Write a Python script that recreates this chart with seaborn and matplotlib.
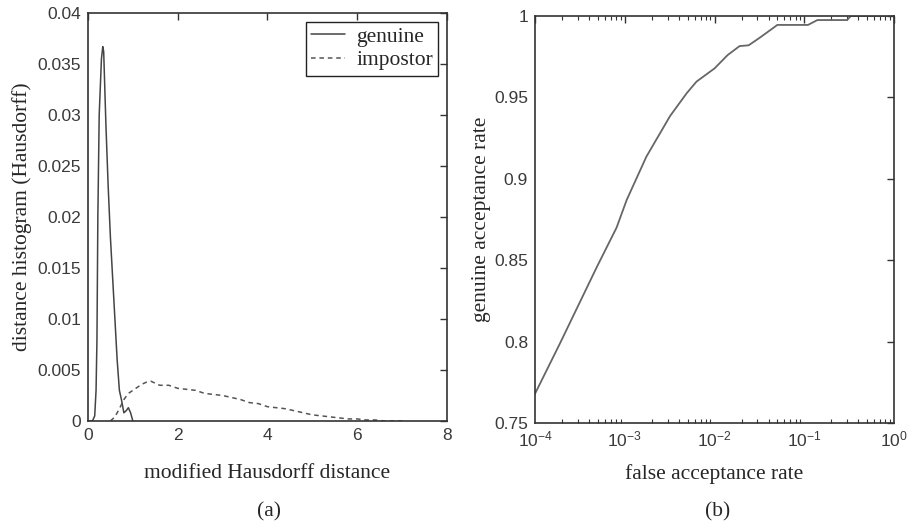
import numpy as np
import pandas as pd
import matplotlib
matplotlib.use('Agg')
import matplotlib.pyplot as plt
import seaborn as sns
from matplotlib.ticker import LogLocator, NullFormatter

# (a) distance histogram values
genuine_x = [0.0, 0.10, 0.15, 0.18, 0.20, 0.22, 0.25, 0.30, 0.33, 0.35, 0.40, 0.45,
             0.50, 0.55, 0.60, 0.65, 0.70, 0.75, 0.80, 0.85, 0.90, 0.95, 1.00]
genuine_y = [0.0, 0.0, 0.0005, 0.003, 0.008, 0.020, 0.030, 0.0355, 0.0367, 0.0362,
             0.029, 0.023, 0.018, 0.014, 0.0100, 0.006, 0.003, 0.002, 0.0008,
             0.0010, 0.0013, 0.0008, 0.0]

impostor_x = [0.5, 0.6, 0.7, 0.8, 0.9, 1.0, 1.1, 1.2, 1.3, 1.4, 1.5, 1.6, 1.8, 2.0,
              2.2, 2.4, 2.6, 2.8, 3.0, 3.2, 3.4, 3.6, 3.8, 4.0, 4.2, 4.4, 4.6, 4.8,
              5.0, 5.2, 5.4, 5.6, 5.8, 6.0, 6.2, 6.4, 6.6, 7.0]
impostor_y = [0.0, 0.0004, 0.0012, 0.0021, 0.0027, 0.0030, 0.0033, 0.0036, 0.0038,
              0.0039, 0.0037, 0.0035, 0.0035, 0.0032, 0.0031, 0.0030, 0.0027, 0.0026,
              0.0025, 0.0023, 0.0021, 0.0018, 0.0017, 0.0014, 0.0013, 0.0012, 0.0010,
              0.0008, 0.0006, 0.0005, 0.0004, 0.0003, 0.0002, 0.0002, 0.0001, 0.0001,
              0.0, 0.0]

# (b) ROC curve
far = [1e-4, 1.9e-4, 4.9e-4, 8.1e-4, 1.05e-3, 1.74e-3, 3.2e-3, 4.9e-3, 6.3e-3,
       1.0e-2, 1.4e-2, 1.9e-2, 2.4e-2, 3.2e-2, 4.6e-2, 5.0e-2, 0.11, 0.14, 0.30,
       0.33, 1.0]
gar = [0.768, 0.799, 0.846, 0.870, 0.887, 0.9136, 0.9386, 0.9526, 0.9597, 0.9678,
       0.976, 0.9815, 0.982, 0.9867, 0.993, 0.9945, 0.9945, 0.9975, 0.9975, 1.0, 1.0]

sns.set_style('white')
plt.rcParams['font.family'] = ['Liberation Serif', 'DejaVu Serif']
plt.rcParams['mathtext.fontset'] = 'custom'
plt.rcParams['mathtext.rm'] = 'Liberation Sans'

tick_font = {'family': 'Liberation Sans', 'size': 12.5}
label_size = 15.5
spine_col = '#333333'

fig = plt.figure(figsize=(9.07, 5.31), dpi=100)
ax1 = fig.add_axes([0.0970, 0.2072, 0.3958, 0.7684])
ax2 = fig.add_axes([0.5899, 0.2034, 0.3958, 0.7665])

df_gen = pd.DataFrame({'x': genuine_x, 'y': genuine_y})
df_imp = pd.DataFrame({'x': impostor_x, 'y': impostor_y})
sns.lineplot(data=df_gen, x='x', y='y', ax=ax1, color='#444444', lw=1.1,
             label='genuine', estimator=None, sort=False)
sns.lineplot(data=df_imp, x='x', y='y', ax=ax1, color='#555555', lw=1.1,
             label='impostor', estimator=None, sort=False, dashes=False)
ax1.lines[1].set_dashes([3, 2.5])

ax1.set_xlim(0, 8)
ax1.set_ylim(0, 0.04)
ax1.set_xticks([0, 2, 4, 6, 8])
ax1.set_yticks([0, 0.005, 0.01, 0.015, 0.02, 0.025, 0.03, 0.035, 0.04])
ax1.set_yticklabels(['0', '0.005', '0.01', '0.015', '0.02', '0.025', '0.03', '0.035', '0.04'])
ax1.set_xlabel('modified Hausdorff distance', fontsize=label_size, labelpad=15)
ax1.set_ylabel('distance histogram (Hausdorff)', fontsize=label_size, labelpad=4)

leg = ax1.legend(loc='upper right', fontsize=label_size, fancybox=False,
                 edgecolor='#222222', framealpha=1, handlelength=1.6,
                 handletextpad=0.5, borderpad=0.25, labelspacing=0.15,
                 borderaxespad=0.4)
leg.get_frame().set_linewidth(1.0)
for h in leg.get_lines():
    h.set_linewidth(1.1)
leg.get_lines()[1].set_dashes([3, 2.5])

df_roc = pd.DataFrame({'far': far, 'gar': gar})
sns.lineplot(data=df_roc, x='far', y='gar', ax=ax2, color='#666666', lw=1.3,
             estimator=None, sort=False)
ax2.set_xscale('log')
ax2.set_xlim(1e-4, 1)
ax2.set_ylim(0.75, 1)
ax2.set_yticks([0.75, 0.8, 0.85, 0.9, 0.95, 1.0])
ax2.set_yticklabels(['0.75', '0.8', '0.85', '0.9', '0.95', '1'])
ax2.xaxis.set_major_locator(LogLocator(base=10, numticks=10))
ax2.xaxis.set_minor_locator(LogLocator(base=10, subs=np.arange(2, 10), numticks=20))
ax2.xaxis.set_minor_formatter(NullFormatter())
ax2.set_xlabel('false acceptance rate', fontsize=label_size, labelpad=10)
ax2.set_ylabel('genuine acceptance rate', fontsize=label_size, labelpad=2)

for ax in (ax1, ax2):
    for s in ax.spines.values():
        s.set_visible(True)
        s.set_color(spine_col)
        s.set_linewidth(1.2)
    ax.tick_params(which='major', direction='in', length=5, width=1.0,
                   top=True, right=True, colors=spine_col, pad=5)
    ax.tick_params(which='minor', direction='in', length=3, width=0.8,
                   top=True, bottom=True, colors=spine_col)
    for lab in ax.get_xticklabels() + ax.get_yticklabels():
        lab.set_fontfamily(tick_font['family'])
        lab.set_fontsize(tick_font['size'])
        lab.set_color('#3a3a3a')
    ax.set_facecolor('white')

fig.text(0.297, 0.036, '(a)', ha='center', va='center', fontsize=label_size)
fig.text(0.791, 0.036, '(b)', ha='center', va='center', fontsize=label_size)

fig.savefig('out.png', dpi=100, facecolor='white')
